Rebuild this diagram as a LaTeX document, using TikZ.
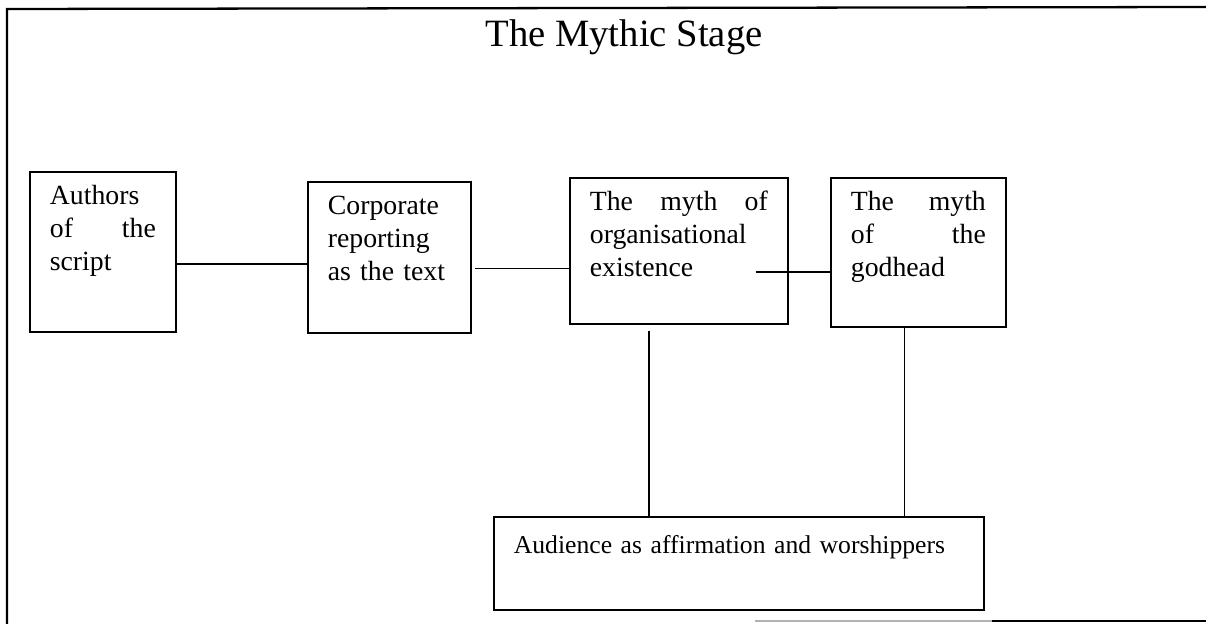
\documentclass[tikz,border=0pt]{standalone}
\usepackage{fontspec}
\setmainfont{Liberation Serif}
\usepackage{tikz}

\begin{document}
\begin{tikzpicture}[x=0.02cm, y=-0.02cm,
    stagebox/.style={draw, line width=1pt, anchor=north west, align=left,
        inner xsep=0.4cm, inner ysep=0pt, text height=0.66cm,
        font=\fontsize{15.8}{18.8}\selectfont},
    link/.style={line width=0.8pt}]
    \useasboundingbox (0,0) rectangle (1206,624);

    % page frame
    \draw[line width=1.3pt] (7,624) -- (7,9) -- (1206,7);
    \draw[line width=0.8pt, black!30] (755,621) -- (992,621);
    \draw[line width=1.3pt] (992,621) -- (1206,621);

    \node[font=\fontsize{22}{26}\selectfont, anchor=base] (title) at (624,47) {The Mythic Stage};

    \node[stagebox, text width=2.12cm, text depth=2.54cm] (authors) at (29,171) {Authors\\of\hfill the\\script};
    \node[stagebox, text width=2.46cm, text depth=2.36cm] (corporate) at (307,181) {Corporate\\reporting\\as the text};
    \node[stagebox, text width=3.56cm, text depth=2.26cm] (myth) at (569,177) {The\hfill myth\hfill of\\organisational\\existence};
    \node[stagebox, text width=2.7cm, text depth=2.32cm] (godhead) at (830,177) {The\hfill myth\\of\hfill the\\godhead};
    \node[stagebox, text width=9cm, text height=0.74cm, text depth=1.12cm,
        font=\fontsize{14.6}{17}\selectfont] (audience) at (493,516) {Audience as affirmation and worshippers};

    \draw[link] (authors.east) ++(0,12) coordinate (ac) -- (ac -| corporate.west);
    \draw[link] (corporate.east) ++(3,11) coordinate (cm) -- (cm -| myth.west);
    \draw[link] (myth.east) ++(-33,21) coordinate (mg) -- (mg -| godhead.west);
    \draw[link] (myth.south) ++(-30,6) coordinate (ma) -- (ma |- audience.north);
    \draw[link] (godhead.south) ++(-14,0) coordinate (ga) -- (ga |- audience.north);
\end{tikzpicture}
\end{document}
